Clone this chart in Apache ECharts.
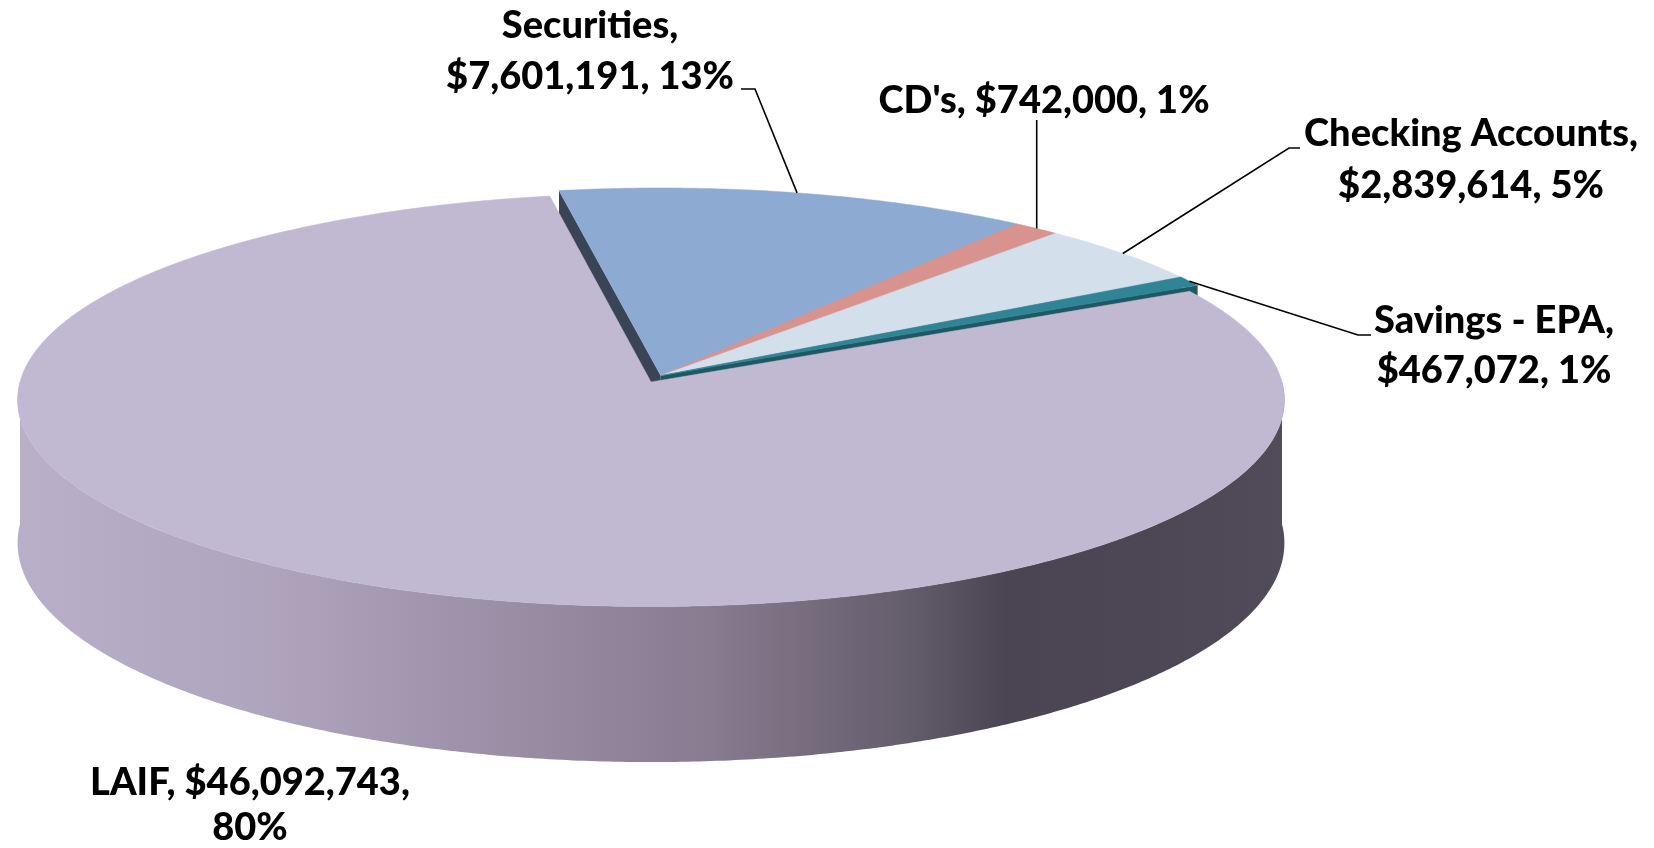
<!DOCTYPE html>
<html>
<head>
<meta charset="utf-8">
<title>Investments</title>
<script src="https://cdn.jsdelivr.net/npm/echarts@6.0.0/dist/echarts.min.js"></script>
<style>
  html, body { margin: 0; padding: 0; background: #fff; }
  #main { width: 1654px; height: 848px; }
</style>
</head>
<body>
<div id="main"></div>
<script>
// data
const names = ['LAIF', 'Securities', "CD's", 'Checking Accounts', 'Savings - EPA']
const amounts = [46092743, 7601191, 742000, 2839614, 467072]

// looks
const topColors = ['#c1b8d1', '#8caad2', '#d8938e', '#d4dfec', '#2f8596']
const wallColors = ['#b9afc8', '#394456', '#9c5f5b', '#8e99a8', '#1d5864']
const wallStops = [
  [0, '#b9afc8'], [0.2, '#aea4bc'], [0.4, '#988da3'], [0.55, '#867b8f'],
  [0.7, '#655e6d'], [0.78, '#4b4553'], [0.9, '#4d4755'], [1, '#524c5a']
]

// label layout (centre x, middle of first line, gap between lines, parts on first line)
const labelX = [250, 590, 1044, 1471, 1494]
const labelY = [783, 26, 101, 134, 321]
const lineGap = [45, 51, 0, 52, 50]
const firstParts = [2, 1, 3, 1, 1]
const leaders = [null, [[741, 89], [755, 89]], [[null, 120]], [[1300, 148], [1289, 148]], [[1371, 335], [1358, 335]]]

// 3d pie geometry
const cx = 651, cy = 382     // projected centre
const S = 631, T = 205       // horizontal / vertical radius
const K = 0.087              // perspective
const depth = 142            // thickness
const startAngle = 27.4      // slices run clockwise from here
const explode = 0.035        // small slices pulled away from the big one

const total = amounts.reduce((a, b) => a + b, 0)
let ranges = []  // [lo, hi] counter-clockwise, degrees
let acc = 0
amounts.forEach(v => {
  let hi = startAngle - 360 * acc / total
  acc += v
  let lo = startAngle - 360 * acc / total
  ranges.push([lo, hi])
})
// offset of the small group: along the middle of everything except the biggest slice
let big = amounts.indexOf(Math.max(...amounts))
let bigMid = (ranges[big][0] + ranges[big][1]) / 2 * Math.PI / 180
let groupOff = [-Math.cos(bigMid) * explode, -Math.sin(bigMid) * explode]

let proj = (X, Z, down) => {
  let w = 1 + K * Z
  return [cx + S * X / w, cy + (-T * Z + down) / w]
}
let rim = (deg, down, off) => {
  let a = deg * Math.PI / 180
  return proj(Math.cos(a) + off[0], Math.sin(a) + off[1], down)
}
let arc = (lo, hi, down, off) => {
  let pts = []
  let n = Math.max(2, Math.ceil((hi - lo) / 0.5))
  for (let i = 0; i <= n; i++) {
    pts.push(rim(lo + (hi - lo) * i / n, down, off))
  }
  return pts
}
let fmt = v => '$' + v.toLocaleString('en-US')

// side walls
let renderWalls = (params, api) => {
  let i = params.dataIndex
  let [lo, hi] = ranges[i]
  let off = i === big ? [0, 0] : groupOff
  let children = []
  // outer wall, only the part facing the viewer
  for (let k = -1; k <= 1; k++) {
    let a = Math.max(lo, 180 + 360 * k)
    let b = Math.min(hi, 360 + 360 * k)
    if (b > a) {
      let pts = arc(a, b, 0, off).concat(arc(a, b, depth, off).reverse())
      children.push({
        type: 'polygon',
        shape: { points: pts },
        style: {
          fill: i === big ? {
            type: 'linear', x: cx - S, y: 0, x2: cx + S, y2: 0, global: true,
            colorStops: wallStops.map(s => ({ offset: s[0], color: s[1] }))
          } : wallColors[i]
        }
      })
    }
  }
  // cut faces
  let radial = deg => {
    let c = proj(off[0], off[1], 0)
    let cb = proj(off[0], off[1], depth)
    children.push({
      type: 'polygon',
      shape: { points: [c, rim(deg, 0, off), rim(deg, depth, off), cb] },
      style: { fill: wallColors[i] }
    })
  }
  if (Math.cos(hi * Math.PI / 180) < 0) radial(hi)
  if (Math.cos(lo * Math.PI / 180) > 0) radial(lo)
  return { type: 'group', children: children }
}

// top faces + labels
let renderTops = (params, api) => {
  let i = params.dataIndex
  let [lo, hi] = ranges[i]
  let off = i === big ? [0, 0] : groupOff
  let value = api.value(0)
  let children = [{
    type: 'polygon',
    shape: { points: [proj(off[0], off[1], 0)].concat(arc(lo, hi, 0, off)) },
    style: { fill: topColors[i], stroke: topColors[i], lineWidth: 0.5 }
  }]
  let pct = Math.round(value / total * 100) + '%'
  let parts = [names[i] + ',', fmt(value) + ',', pct]
  let lines = [parts.slice(0, firstParts[i]).join(' ')]
  if (firstParts[i] < 3) lines.push(parts.slice(firstParts[i]).join(' '))
  lines.forEach((t, j) => {
    children.push({
      type: 'text',
      z2: 10,
      style: {
        text: t, x: labelX[i], y: labelY[i] + j * lineGap[i],
        align: 'center', verticalAlign: 'middle',
        fontFamily: 'Lato', fontWeight: 900, fontSize: 38, fill: '#000'
      }
    })
  })
  if (leaders[i]) {
    let end = rim((lo + hi) / 2, 0, off)
    let pts = leaders[i].map(p => [p[0] === null ? end[0] : p[0], p[1]])
    pts.push(end)
    children.push({
      type: 'polyline',
      z2: 10,
      shape: { points: pts },
      style: { stroke: '#000', lineWidth: 1.6, fill: null }
    })
  }
  return { type: 'group', children: children }
}

let myChart = echarts.init(document.getElementById('main'))
myChart.setOption({
  backgroundColor: '#fff',
  animation: false,
  series: [
    { type: 'custom', name: 'walls', coordinateSystem: 'none', z: 1, silent: true, renderItem: renderWalls, data: amounts },
    { type: 'custom', name: 'tops', coordinateSystem: 'none', z: 2, silent: true, renderItem: renderTops, data: amounts }
  ]
})
</script>
</body>
</html>
